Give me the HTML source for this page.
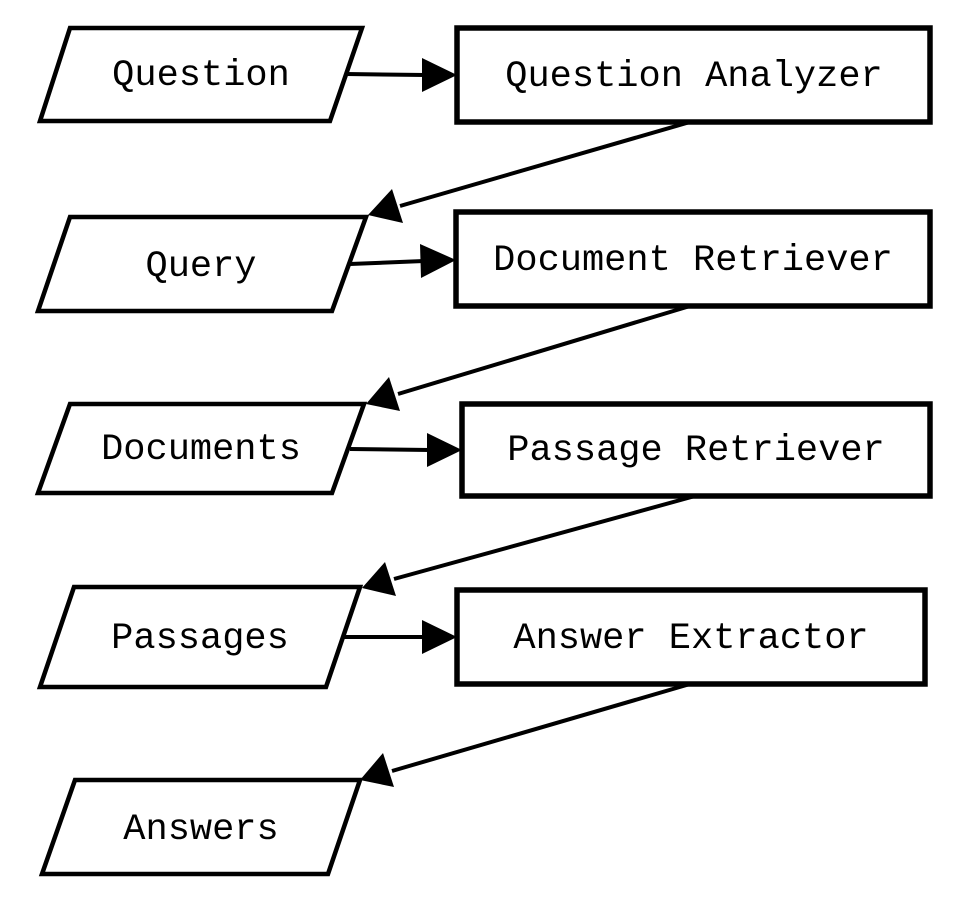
<!DOCTYPE html>
<html><head><style>html,body{margin:0;padding:0;background:#fff;}</style></head>
<body>
<svg width="966" height="914" viewBox="0 0 966 914" xmlns="http://www.w3.org/2000/svg">
<g fill="#fff" stroke="#000" stroke-width="4.5">
<polygon points="70,28 362,28 330,121 40,121"/>
<polygon points="70,217 366,217 332,311 38,311"/>
<polygon points="70,404 364,404 332,493 38,493"/>
<polygon points="74,587 360,587 326,687 40,687"/>
<polygon points="75,780 360,780 328,874 42,874"/>
</g>
<g fill="#fff" stroke="#000" stroke-width="5.5">
<rect x="457" y="28" width="473" height="94"/>
<rect x="456" y="212" width="474" height="94"/>
<rect x="462" y="404" width="468" height="92"/>
<rect x="457" y="590" width="468" height="94"/>
</g>
<g stroke="#000" stroke-width="4" fill="none">
<line x1="346" y1="74" x2="425" y2="75"/>
<line x1="350" y1="264" x2="424" y2="261"/>
<line x1="350" y1="449" x2="430" y2="450"/>
<line x1="344" y1="637" x2="425" y2="637"/>
<line x1="690" y1="122" x2="400" y2="206"/>
<line x1="690" y1="306" x2="398" y2="394"/>
<line x1="695" y1="496" x2="394" y2="579"/>
<line x1="690" y1="684" x2="392" y2="771"/>
</g>
<g fill="#000">
<polygon points="457,75 422,58 422,92"/>
<polygon points="456,260 420,244 421,278"/>
<polygon points="462,450 427,433 427,467"/>
<polygon points="457,637 422,620 422,654"/>
<polygon points="368,215 392,189 403,223"/>
<polygon points="366,404 389,377 400,411"/>
<polygon points="362,588 385,562 396,596"/>
<polygon points="360,780 383,753 394,787"/>
</g>
<g font-family="'Liberation Mono', monospace" font-size="37" text-anchor="middle" dominant-baseline="central" fill="#000">
<text x="201" y="76">Question</text>
<text x="694" y="77">Question Analyzer</text>
<text x="201" y="267">Query</text>
<text x="693" y="261">Document Retriever</text>
<text x="201" y="450">Documents</text>
<text x="696" y="451">Passage Retriever</text>
<text x="200" y="639">Passages</text>
<text x="691" y="639">Answer Extractor</text>
<text x="201" y="830">Answers</text>
</g>
</svg>
</body></html>
